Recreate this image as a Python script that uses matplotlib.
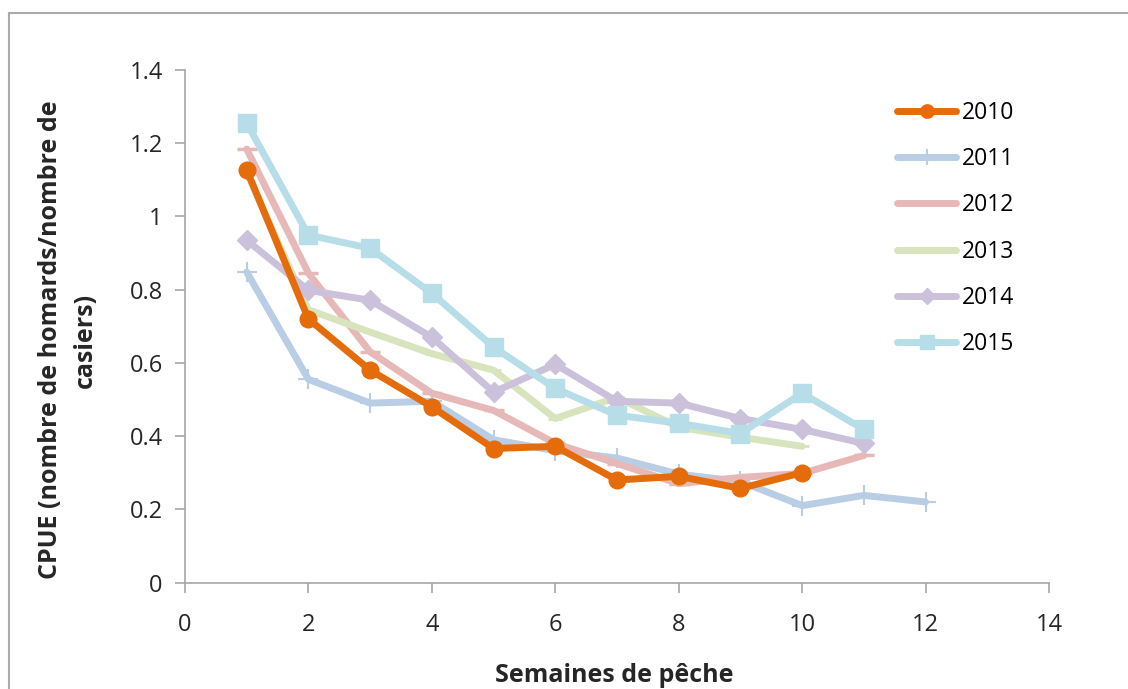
import matplotlib
matplotlib.use("Agg")
import matplotlib.pyplot as plt
from matplotlib.lines import Line2D

# Weekly catch per unit effort, by fishing season
weeks_2010 = [1, 2, 3, 4, 5, 6, 7, 8, 9, 10]
cpue_2010 = [1.127, 0.72, 0.58, 0.48, 0.366, 0.372, 0.28, 0.29, 0.257, 0.30]

weeks_2011 = [1, 2, 3, 4, 5, 6, 7, 8, 9, 10, 11, 12]
cpue_2011 = [0.848, 0.555, 0.49, 0.495, 0.39, 0.36, 0.34, 0.296, 0.276, 0.21, 0.238, 0.22]

weeks_2012 = [1, 2, 3, 4, 5, 6, 7, 8, 9, 10, 11]
cpue_2012 = [1.184, 0.845, 0.63, 0.517, 0.47, 0.38, 0.325, 0.27, 0.287, 0.298, 0.347]

weeks_2013 = [1, 2, 3, 4, 5, 6, 7, 8, 9, 10]
cpue_2013 = [1.12, 0.745, 0.684, 0.625, 0.58, 0.448, 0.506, 0.424, 0.397, 0.372]

weeks_2014 = [1, 2, 3, 4, 5, 6, 7, 8, 9, 10, 11]
cpue_2014 = [0.935, 0.798, 0.771, 0.67, 0.52, 0.596, 0.495, 0.49, 0.448, 0.418, 0.38]

weeks_2015 = [1, 2, 3, 4, 5, 6, 7, 8, 9, 10, 11]
cpue_2015 = [1.255, 0.949, 0.913, 0.79, 0.643, 0.53, 0.457, 0.435, 0.407, 0.517, 0.418]

x_ticks = [0, 2, 4, 6, 8, 10, 12, 14]
y_ticks = [0, 0.2, 0.4, 0.6, 0.8, 1.0, 1.2, 1.4]
y_tick_labels = ["0", "0.2", "0.4", "0.6", "0.8", "1", "1.2", "1.4"]

plt.rcParams["font.family"] = ["Open Sans", "DejaVu Sans"]

W, H = 1128, 689
fig = plt.figure(figsize=(W / 100, H / 100), dpi=100)
ax = fig.add_axes([185 / W, 1 - 582.5 / H, 864 / W, 512.5 / H])

axis_grey = "#A6A6A6"

# Draw back-to-front so the bold 2010 line sits on top
series = [
    (weeks_2011, cpue_2011, "2011", "#B9CDE5", dict(marker="+", markersize=14, markeredgewidth=1.5)),
    (weeks_2012, cpue_2012, "2012", "#E6B9B8", dict(marker="_", markersize=14, markeredgewidth=2.5)),
    (weeks_2013, cpue_2013, "2013", "#D7E4BD", dict(marker="_", markersize=10, markeredgewidth=2)),
    (weeks_2014, cpue_2014, "2014", "#CCC1DA", dict(marker="D", markersize=10)),
    (weeks_2015, cpue_2015, "2015", "#B7DEE8", dict(marker="s", markersize=13)),
    (weeks_2010, cpue_2010, "2010", "#E46C0A", dict(marker="o", markersize=12)),
]
handles = {}
for x, y, label, color, mk in series:
    (ln,) = ax.plot(x, y, color=color, linewidth=5, label=label,
                    markerfacecolor=color, markeredgecolor=color,
                    solid_capstyle="round", solid_joinstyle="round", **mk)
    handles[label] = ln

order = ["2010", "2011", "2012", "2013", "2014", "2015"]
leg = ax.legend([handles[k] for k in order], order, loc="upper left",
                bbox_to_anchor=(0.80, 0.98), frameon=False, fontsize=16.5,
                handlelength=2.6, labelspacing=0.97, handletextpad=0.25,
                markerscale=0.8)

ax.set_xlim(0, 14)
ax.set_ylim(0, 1.4)
ax.set_xticks(x_ticks)
ax.set_yticks(y_ticks)
ax.set_yticklabels(y_tick_labels)
ax.tick_params(axis="both", labelsize=17, colors=axis_grey, labelcolor="#262626",
               length=7, width=1.2, direction="out")
ax.tick_params(axis="x", pad=15)
ax.tick_params(axis="y", pad=9)

for side in ("top", "right"):
    ax.spines[side].set_visible(False)
for side in ("left", "bottom"):
    ax.spines[side].set_color(axis_grey)
    ax.spines[side].set_linewidth(1.2)

# Axis titles
fig.text(614 / W, 1 - 675 / H, "Semaines de pêche", fontsize=18, fontweight="bold",
         ha="center", va="center", color="#262626")
fig.text(68 / W, 1 - 340 / H, "CPUE (nombre de homards/nombre de\ncasiers)",
         fontsize=18, fontweight="bold", rotation=90, ha="center", va="center",
         multialignment="center", linespacing=1.5, color="#262626")

# Chart-area frame around the figure
fig.add_artist(Line2D([9 / W, 9 / W], [0, 1 - 13 / H], transform=fig.transFigure,
                      color="#ABABAB", linewidth=1.5))
fig.add_artist(Line2D([9 / W, 1], [1 - 13 / H, 1 - 13 / H], transform=fig.transFigure,
                      color="#ABABAB", linewidth=1.5))

fig.savefig("out.png", dpi=100, facecolor="white")
